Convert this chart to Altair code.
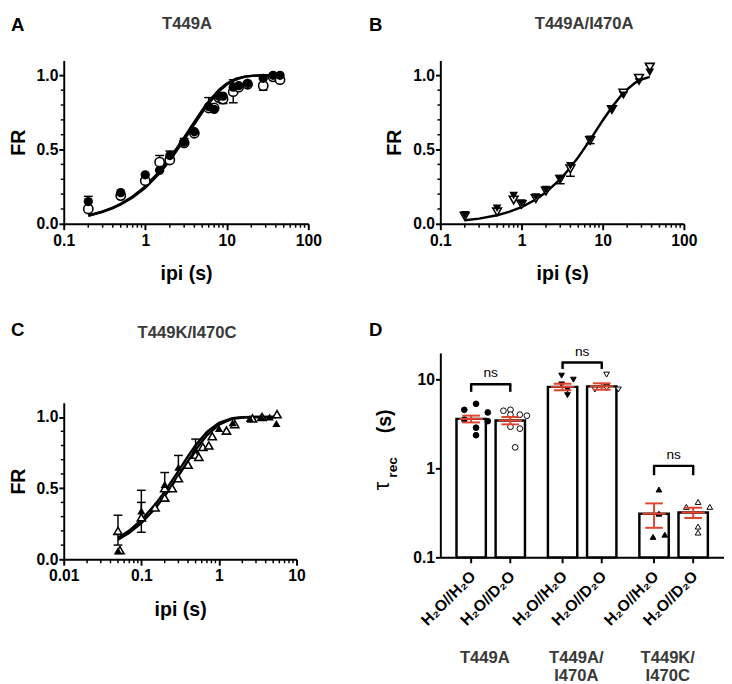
import altair as alt
import pandas as pd

FONT = "Liberation Sans"
RED = "#e1442c"
GRAY = "#3a3a3a"

# ---------------- Panel A : T449A ----------------
A_x = [0.2, 0.5, 1, 1.5, 2, 3, 4, 6, 7, 8, 9, 12, 14, 18, 28, 37, 45]
A_h2o = [0.15, 0.21, 0.33, 0.36, 0.46, 0.55, 0.62, 0.79, 0.77, 0.86, 0.86, 0.92, 0.93, 0.945, 0.98, 1.0, 1.0]
A_d2o = [0.10, 0.19, 0.29, 0.415, 0.43, 0.545, 0.61, 0.78, 0.78, 0.85, 0.84, 0.89, 0.92, 0.94, 0.93, 0.99, 0.97]
A_fit_x = [0.2, 0.3, 0.4, 0.5, 0.7, 1, 1.5, 2, 3, 4, 5, 6, 8, 10, 13, 17, 22, 30, 38]
A_fit_h2o = [0.054, 0.080, 0.105, 0.130, 0.177, 0.243, 0.341, 0.426, 0.565, 0.671, 0.751, 0.811, 0.892, 0.938, 0.973, 0.991, 0.998, 1.0, 1.0]
A_fit_d2o = [0.056, 0.083, 0.109, 0.135, 0.184, 0.252, 0.353, 0.440, 0.581, 0.686, 0.765, 0.824, 0.902, 0.945, 0.977, 0.993, 0.998, 1.0, 1.0]
A_err_x = [0.2, 2, 3, 6, 12, 1.5, 9, 12, 28]
A_err_from = [0.15, 0.46, 0.55, 0.79, 0.92, 0.415, 0.84, 0.89, 0.93]
A_err_to = [0.185, 0.49, 0.575, 0.85, 0.97, 0.46, 0.81, 0.815, 0.90]

# ---------------- Panel B : T449A/I470A ----------------
B_x = [0.2, 0.5, 0.8, 1, 1.5, 2, 3, 4, 7, 13, 18, 28, 38]
B_h2o = [0.06, 0.105, 0.19, 0.14, 0.18, 0.23, 0.305, 0.39, 0.57, 0.77, 0.865, 0.955, 1.02]
B_d2o = [0.05, 0.08, 0.16, 0.13, 0.17, 0.22, 0.30, 0.37, 0.56, 0.77, 0.88, 0.98, 1.055]
B_fit_x = [0.2, 0.3, 0.5, 0.7, 1, 1.5, 2, 3, 4, 5, 7, 10, 13, 18, 25, 30, 38]
B_fit = [0.024, 0.035, 0.058, 0.080, 0.112, 0.164, 0.212, 0.300, 0.379, 0.449, 0.565, 0.696, 0.787, 0.883, 0.949, 0.972, 0.989]
B_err_x = [3, 4, 7, 18, 28, 38]
B_err_from = [0.305, 0.37, 0.57, 0.88, 0.98, 1.055]
B_err_to = [0.27, 0.32, 0.54, 0.89, 1.0, 1.07]

# ---------------- Panel C : T449K/I470C ----------------
C_x_h2o = [0.05, 0.1, 0.2, 0.3, 0.5, 1.0, 1.5, 2.5, 3.5, 4.5, 5.5]
C_h2o = [0.06, 0.34, 0.527, 0.647, 0.77, 0.92, 0.96, 0.99, 1.0, 1.0, 0.955]
C_x_d2o = [0.05, 0.053, 0.1, 0.15, 0.2, 0.2, 0.25, 0.3, 0.4, 0.5, 0.55, 0.62, 0.74, 0.82, 1.25, 1.6, 2.7, 3.6, 5.6]
C_d2o = [0.20, 0.065, 0.295, 0.365, 0.434, 0.50, 0.50, 0.57, 0.665, 0.735, 0.72, 0.79, 0.80, 0.865, 0.905, 0.95, 0.99, 1.0, 1.02]
C_fit_x = [0.05, 0.07, 0.1, 0.15, 0.2, 0.3, 0.4, 0.5, 0.7, 1, 1.5, 2, 3, 4, 5.5]
C_fit_h2o = [0.149, 0.202, 0.276, 0.384, 0.475, 0.620, 0.725, 0.801, 0.895, 0.960, 0.992, 0.998, 1.0, 1.0, 1.0]
C_fit_d2o = [0.137, 0.186, 0.255, 0.357, 0.445, 0.586, 0.692, 0.770, 0.872, 0.947, 0.988, 0.997, 1.0, 1.0, 1.0]
C_err_x = [0.05, 0.05, 0.1, 0.1, 0.1, 0.2, 0.3, 0.5]
C_err_from = [0.20, 0.20, 0.34, 0.295, 0.295, 0.527, 0.647, 0.77]
C_err_to = [0.31, 0.10, 0.485, 0.40, 0.19, 0.61, 0.73, 0.845]

# axis ticks
TICKS_01_100 = [0.1, 1, 10, 100]
MINOR_01_100 = [0.2, 0.3, 0.4, 0.5, 0.6, 0.7, 0.8, 0.9, 2, 3, 4, 5, 6, 7, 8, 9, 20, 30, 40, 50, 60, 70, 80, 90]
TICKS_001_10 = [0.01, 0.1, 1, 10]
MINOR_001_10 = [0.02, 0.03, 0.04, 0.05, 0.06, 0.07, 0.08, 0.09, 0.2, 0.3, 0.4, 0.5, 0.6, 0.7, 0.8, 0.9, 2, 3, 4, 5, 6, 7, 8, 9]
FR_TICKS = [0.0, 0.5, 1.0]
FR_MINOR = [0.1, 0.2, 0.3, 0.4, 0.6, 0.7, 0.8, 0.9]

# ---------------- Panel D : tau_rec ----------------
D_groups = ["T449A", "T449A/I470A", "T449K/I470C"]
D_group_text = ["T449A", "T449A/\nI470A", "T449K/\nI470C"]
D_conds = ["H2O", "D2O"]
D_cond_text = ["H\u2082O//H\u2082O", "H\u2082O//D\u2082O"]
D_mean_h2o = [3.62, 8.3, 0.31]
D_mean_d2o = [3.47, 8.4, 0.32]
D_sem_h2o = [0.32, 0.7, 0.095]
D_sem_d2o = [0.33, 0.7, 0.042]
D_axis_min = 0.1
T449A_h2o = [4.58, 5.35, 4.28, 3.55, 3.41, 2.88, 2.37]
T449A_h2o_slot = [-1, 0, 1, -1, 1, 0, 0]
T449A_d2o = [4.47, 4.58, 4.04, 4.04, 3.93, 2.95, 2.81, 1.73]
T449A_d2o_slot = [-1, -0.4, -0.4, 0.4, 1, -0.4, 0.4, 0]
T449AI470A_h2o = [11.1, 10.0, 8.85, 7.75, 6.7]
T449AI470A_h2o_slot = [-0.5, 0.5, -0.5, 0, 0]
T449AI470A_d2o = [11.4, 7.75, 7.75, 8.3, 8.0]
T449AI470A_d2o_slot = [0, -1, 1, 0, 0]
T449KI470C_h2o = [0.58, 0.17, 0.18, 0.31]
T449KI470C_h2o_slot = [0, -0.5, 0.5, 0]
T449KI470C_d2o = [0.37, 0.42, 0.37, 0.222, 0.19]
T449KI470C_d2o_slot = [-1, 0, 1, 0, 0]
NS_top = [8.87, 15.6, 1.07]
NS_leg = [7.3, 13.2, 0.84]


def fr_panel(series, fits, errs, xdom, xmajor, xminor, w, h, shape, size,
             letter, letter_xy, title, title_xy):
    xscale = alt.Scale(type="log", domain=xdom, nice=False)
    yscale = alt.Scale(domain=[0, 1.1], nice=False, zero=False)
    xaxis = alt.Axis(values=xmajor, format="~g", title="ipi (s)", tickSize=6,
                     labelPadding=3, titlePadding=16, labelFlush=False, labelOverlap=False)
    yaxis = alt.Axis(values=FR_TICKS, format=".1f", title="FR", tickSize=5,
                     labelPadding=1, titlePadding=8, labelFlush=False)

    def X(f):
        return alt.X(f, scale=xscale, axis=xaxis)

    def Y(f):
        return alt.Y(f, scale=yscale, axis=yaxis)

    rows = []
    for s, xs, ys in fits:
        rows += [{"x": a, "y": b, "s": s} for a, b in zip(xs, ys)]
    fit_df = pd.DataFrame(rows)
    ex, ef, et = errs
    err_df = pd.DataFrame({"x": ex, "y": ef, "y2": et})
    (hx, hy), (dx_, dy_) = series
    filled_df = pd.DataFrame({"x": hx, "y": hy})
    open_df = pd.DataFrame({"x": dx_, "y": dy_})

    layers = [
        alt.Chart(pd.DataFrame({"v": xminor})).mark_rule(color="black", strokeWidth=1.5)
        .encode(x=X("v:Q"), y=alt.value(h), y2=alt.value(h + 4)),
        alt.Chart(pd.DataFrame({"v": FR_MINOR})).mark_rule(color="black", strokeWidth=1.5)
        .encode(y=Y("v:Q"), x=alt.value(-3), x2=alt.value(0)),
        alt.Chart(fit_df).mark_line(color="black", strokeWidth=2.5)
        .encode(x=X("x:Q"), y=Y("y:Q"), detail="s:N"),
        alt.Chart(err_df).mark_rule(color="black", strokeWidth=1.5)
        .encode(x=X("x:Q"), y=Y("y:Q"), y2="y2:Q"),
        alt.Chart(err_df).mark_tick(color="black", orient="horizontal", size=9, thickness=1.5, opacity=1)
        .encode(x=X("x:Q"), y=Y("y2:Q")),
        alt.Chart(open_df).mark_point(shape=shape, size=size, filled=True, fill="white",
                                      stroke="black", strokeWidth=1.6, opacity=1)
        .encode(x=X("x:Q"), y=Y("y:Q")),
        alt.Chart(filled_df).mark_point(shape=shape, size=size, filled=True, color="black", opacity=1)
        .encode(x=X("x:Q"), y=Y("y:Q")),
        alt.Chart(pd.DataFrame({"t": [letter]})).mark_text(
            font=FONT, fontSize=19, fontWeight="bold", align="left", baseline="top", color="black")
        .encode(text="t:N", x=alt.value(letter_xy[0]), y=alt.value(letter_xy[1])),
        alt.Chart(pd.DataFrame({"t": [title]})).mark_text(
            font=FONT, fontSize=17, fontWeight="bold", align="center", baseline="top", color=GRAY)
        .encode(text="t:N", x=alt.value(title_xy[0]), y=alt.value(title_xy[1])),
    ]
    return alt.layer(*layers).properties(width=w, height=h)


A = fr_panel(((A_x, A_h2o), (A_x, A_d2o)),
             [("h", A_fit_x, A_fit_h2o), ("d", A_fit_x, A_fit_d2o)],
             (A_err_x, A_err_from, A_err_to),
             [0.1, 100], TICKS_01_100, MINOR_01_100, 250, 167, "circle", 90,
             "A", (-54, -45), "T449A", (126, -45))

B = fr_panel(((B_x, B_h2o), (B_x, B_d2o)),
             [("h", B_fit_x, B_fit)],
             (B_err_x, B_err_from, B_err_to),
             [0.1, 100], TICKS_01_100, MINOR_01_100, 249, 167, "triangle-down", 80,
             "B", (-73, -45), "T449A/I470A", (147, -45))

C = fr_panel(((C_x_h2o, C_h2o), (C_x_d2o, C_d2o)),
             [("h", C_fit_x, C_fit_h2o), ("d", C_fit_x, C_fit_d2o)],
             (C_err_x, C_err_from, C_err_to),
             [0.01, 10], TICKS_001_10, MINOR_001_10, 238, 160, "triangle-up", 70,
             "C", (-54, -83), "T449K/I470C", (126, -79))

# ---------------- build panel D ----------------
DW, DH = 290, 209
bar_rows = []
for i, g in enumerate(D_groups):
    for c, m, s in ((D_conds[0], D_mean_h2o[i], D_sem_h2o[i]), (D_conds[1], D_mean_d2o[i], D_sem_d2o[i])):
        bar_rows.append({"group": g, "cond": c, "mean": m, "lo": m - s, "hi": m + s, "base": D_axis_min})
bar_df = pd.DataFrame(bar_rows)
lab_df = pd.DataFrame([{"group": g, "cond": c, "lab": t}
                       for g in D_groups for c, t in zip(D_conds, D_cond_text)])
pt_rows = []
for g, c, vals, slots in [
    (D_groups[0], "H2O", T449A_h2o, T449A_h2o_slot),
    (D_groups[0], "D2O", T449A_d2o, T449A_d2o_slot),
    (D_groups[1], "H2O", T449AI470A_h2o, T449AI470A_h2o_slot),
    (D_groups[1], "D2O", T449AI470A_d2o, T449AI470A_d2o_slot),
    (D_groups[2], "H2O", T449KI470C_h2o, T449KI470C_h2o_slot),
    (D_groups[2], "D2O", T449KI470C_d2o, T449KI470C_d2o_slot),
]:
    ci = D_conds.index(c)
    for v, s in zip(vals, slots):
        pt_rows.append({"group": g, "cond": c, "v": v, "pos": ci + 0.3 * s})
pt_df = pd.DataFrame(pt_rows)
ns_df = pd.DataFrame({"group": D_groups, "top": NS_top, "leg": NS_leg, "t": ["ns"] * 3})
ns_leg_df = pd.DataFrame([{"group": g, "cond": c, "top": t, "leg": l}
                          for g, t, l in zip(D_groups, NS_top, NS_leg) for c in D_conds])
grp_df = pd.DataFrame({"group": D_groups, "t": D_group_text})

dx_scale = alt.Scale(domain=D_groups, paddingInner=0.144, paddingOuter=0.123)
dx_axis = alt.Axis(labels=False, ticks=False, title=None, domainWidth=2)
dy_scale = alt.Scale(type="log", domain=[0.1, 20], nice=False)
dy_axis = alt.Axis(values=[0.1, 1, 10], format="~g", title=None, tickSize=5, labelPadding=1)


def DX():
    return alt.X("group:N", scale=dx_scale, axis=dx_axis)


def DOFF():
    return alt.XOffset("cond:N", scale=alt.Scale(type="band", domain=D_conds,
                                                  paddingInner=0.25, paddingOuter=0.125))


def DY(f):
    return alt.Y(f, scale=dy_scale, axis=dy_axis)


D_layers = [
    alt.Chart(bar_df).mark_bar(fill="white", stroke="black", strokeWidth=2.5, opacity=1)
    .encode(x=DX(), xOffset=DOFF(), y=DY("mean:Q"), y2="base:Q"),
    alt.Chart(lab_df).mark_rule(color="black", strokeWidth=2)
    .encode(x=DX(), xOffset=DOFF(), y=alt.value(DH), y2=alt.value(DH + 6)),
    alt.Chart(pt_df).mark_point(filled=True, size=34, stroke="black", strokeWidth=1, opacity=1)
    .encode(x=DX(),
            xOffset=alt.XOffset("pos:Q", scale=alt.Scale(domain=[-0.625, 1.375], range=[0, 80])),
            y=DY("v:Q"),
            shape=alt.Shape("group:N", scale=alt.Scale(domain=D_groups,
                                                       range=["circle", "triangle-down", "triangle-up"]), legend=None),
            fill=alt.Fill("cond:N", scale=alt.Scale(domain=D_conds, range=["black", "white"]), legend=None)),
    alt.Chart(bar_df).mark_rule(color=RED, strokeWidth=2)
    .encode(x=DX(), xOffset=DOFF(), y=DY("lo:Q"), y2="hi:Q"),
    alt.Chart(bar_df).mark_tick(color=RED, orient="horizontal", size=24, thickness=2, opacity=1)
    .encode(x=DX(), xOffset=DOFF(), y=DY("mean:Q")),
    alt.Chart(bar_df).mark_tick(color=RED, orient="horizontal", size=18, thickness=2, opacity=1)
    .encode(x=DX(), xOffset=DOFF(), y=DY("lo:Q")),
    alt.Chart(bar_df).mark_tick(color=RED, orient="horizontal", size=18, thickness=2, opacity=1)
    .encode(x=DX(), xOffset=DOFF(), y=DY("hi:Q")),
    alt.Chart(ns_df).mark_tick(color="black", orient="horizontal", size=42, thickness=2.5, opacity=1)
    .encode(x=DX(), y=DY("top:Q")),
    alt.Chart(ns_leg_df).mark_rule(color="black", strokeWidth=2.5)
    .encode(x=DX(), xOffset=DOFF(), y=DY("top:Q"), y2="leg:Q"),
    alt.Chart(ns_df).mark_text(font=FONT, fontSize=14, baseline="bottom", dy=-4, color="black")
    .encode(x=DX(), y=DY("top:Q"), text="t:N"),
    alt.Chart(lab_df).mark_text(font=FONT, fontSize=16, fontWeight="bold", angle=315,
                                align="right", baseline="middle", dx=3, color="black")
    .encode(x=DX(), xOffset=DOFF(), y=alt.value(DH + 19), text="lab:N"),
    alt.Chart(grp_df).mark_text(font=FONT, fontSize=17, fontWeight="bold", align="center",
                                baseline="top", lineBreak="\n", lineHeight=18, dx=-6, color=GRAY)
    .encode(x=DX(), y=alt.value(DH + 95), text="t:N"),
    alt.Chart(pd.DataFrame({"t": ["D"]})).mark_text(
        font=FONT, fontSize=19, fontWeight="bold", align="left", baseline="top", color="black")
    .encode(text="t:N", x=alt.value(-73), y=alt.value(-32)),
    alt.Chart(pd.DataFrame({"t": ["\u03c4"]})).mark_text(
        font=FONT, fontSize=22, angle=270, align="center", baseline="middle", color="black")
    .encode(text="t:N", x=alt.value(-59), y=alt.value(136)),
    alt.Chart(pd.DataFrame({"t": ["rec"]})).mark_text(
        font=FONT, fontSize=14, fontWeight="bold", angle=270, align="center", baseline="middle", color="black")
    .encode(text="t:N", x=alt.value(-48), y=alt.value(117)),
    alt.Chart(pd.DataFrame({"t": ["(s)"]})).mark_text(
        font=FONT, fontSize=20, fontWeight="bold", angle=270, align="center", baseline="middle", color="black")
    .encode(text="t:N", x=alt.value(-56), y=alt.value(70)),
]
D = alt.layer(*D_layers).resolve_scale(xOffset="independent").properties(width=DW, height=DH)

col1 = alt.vconcat(A, C, spacing=183, bounds="flush")
col2 = alt.vconcat(B, D, spacing=132, bounds="flush")

chart = (
    alt.hconcat(col1, col2, spacing=48)
    .properties(padding=0)
    .configure_view(stroke=None)
    .configure_axis(domainColor="black", domainWidth=2, tickColor="black", tickWidth=2,
                    labelFont=FONT, labelFontSize=16, labelFontWeight="bold", labelColor="black",
                    titleFont=FONT, titleFontSize=20, titleFontWeight="bold", titleColor="black",
                    grid=False, labelFlush=False)
)

chart.save("out.html", embed_options={"renderer": "svg", "actions": False})
